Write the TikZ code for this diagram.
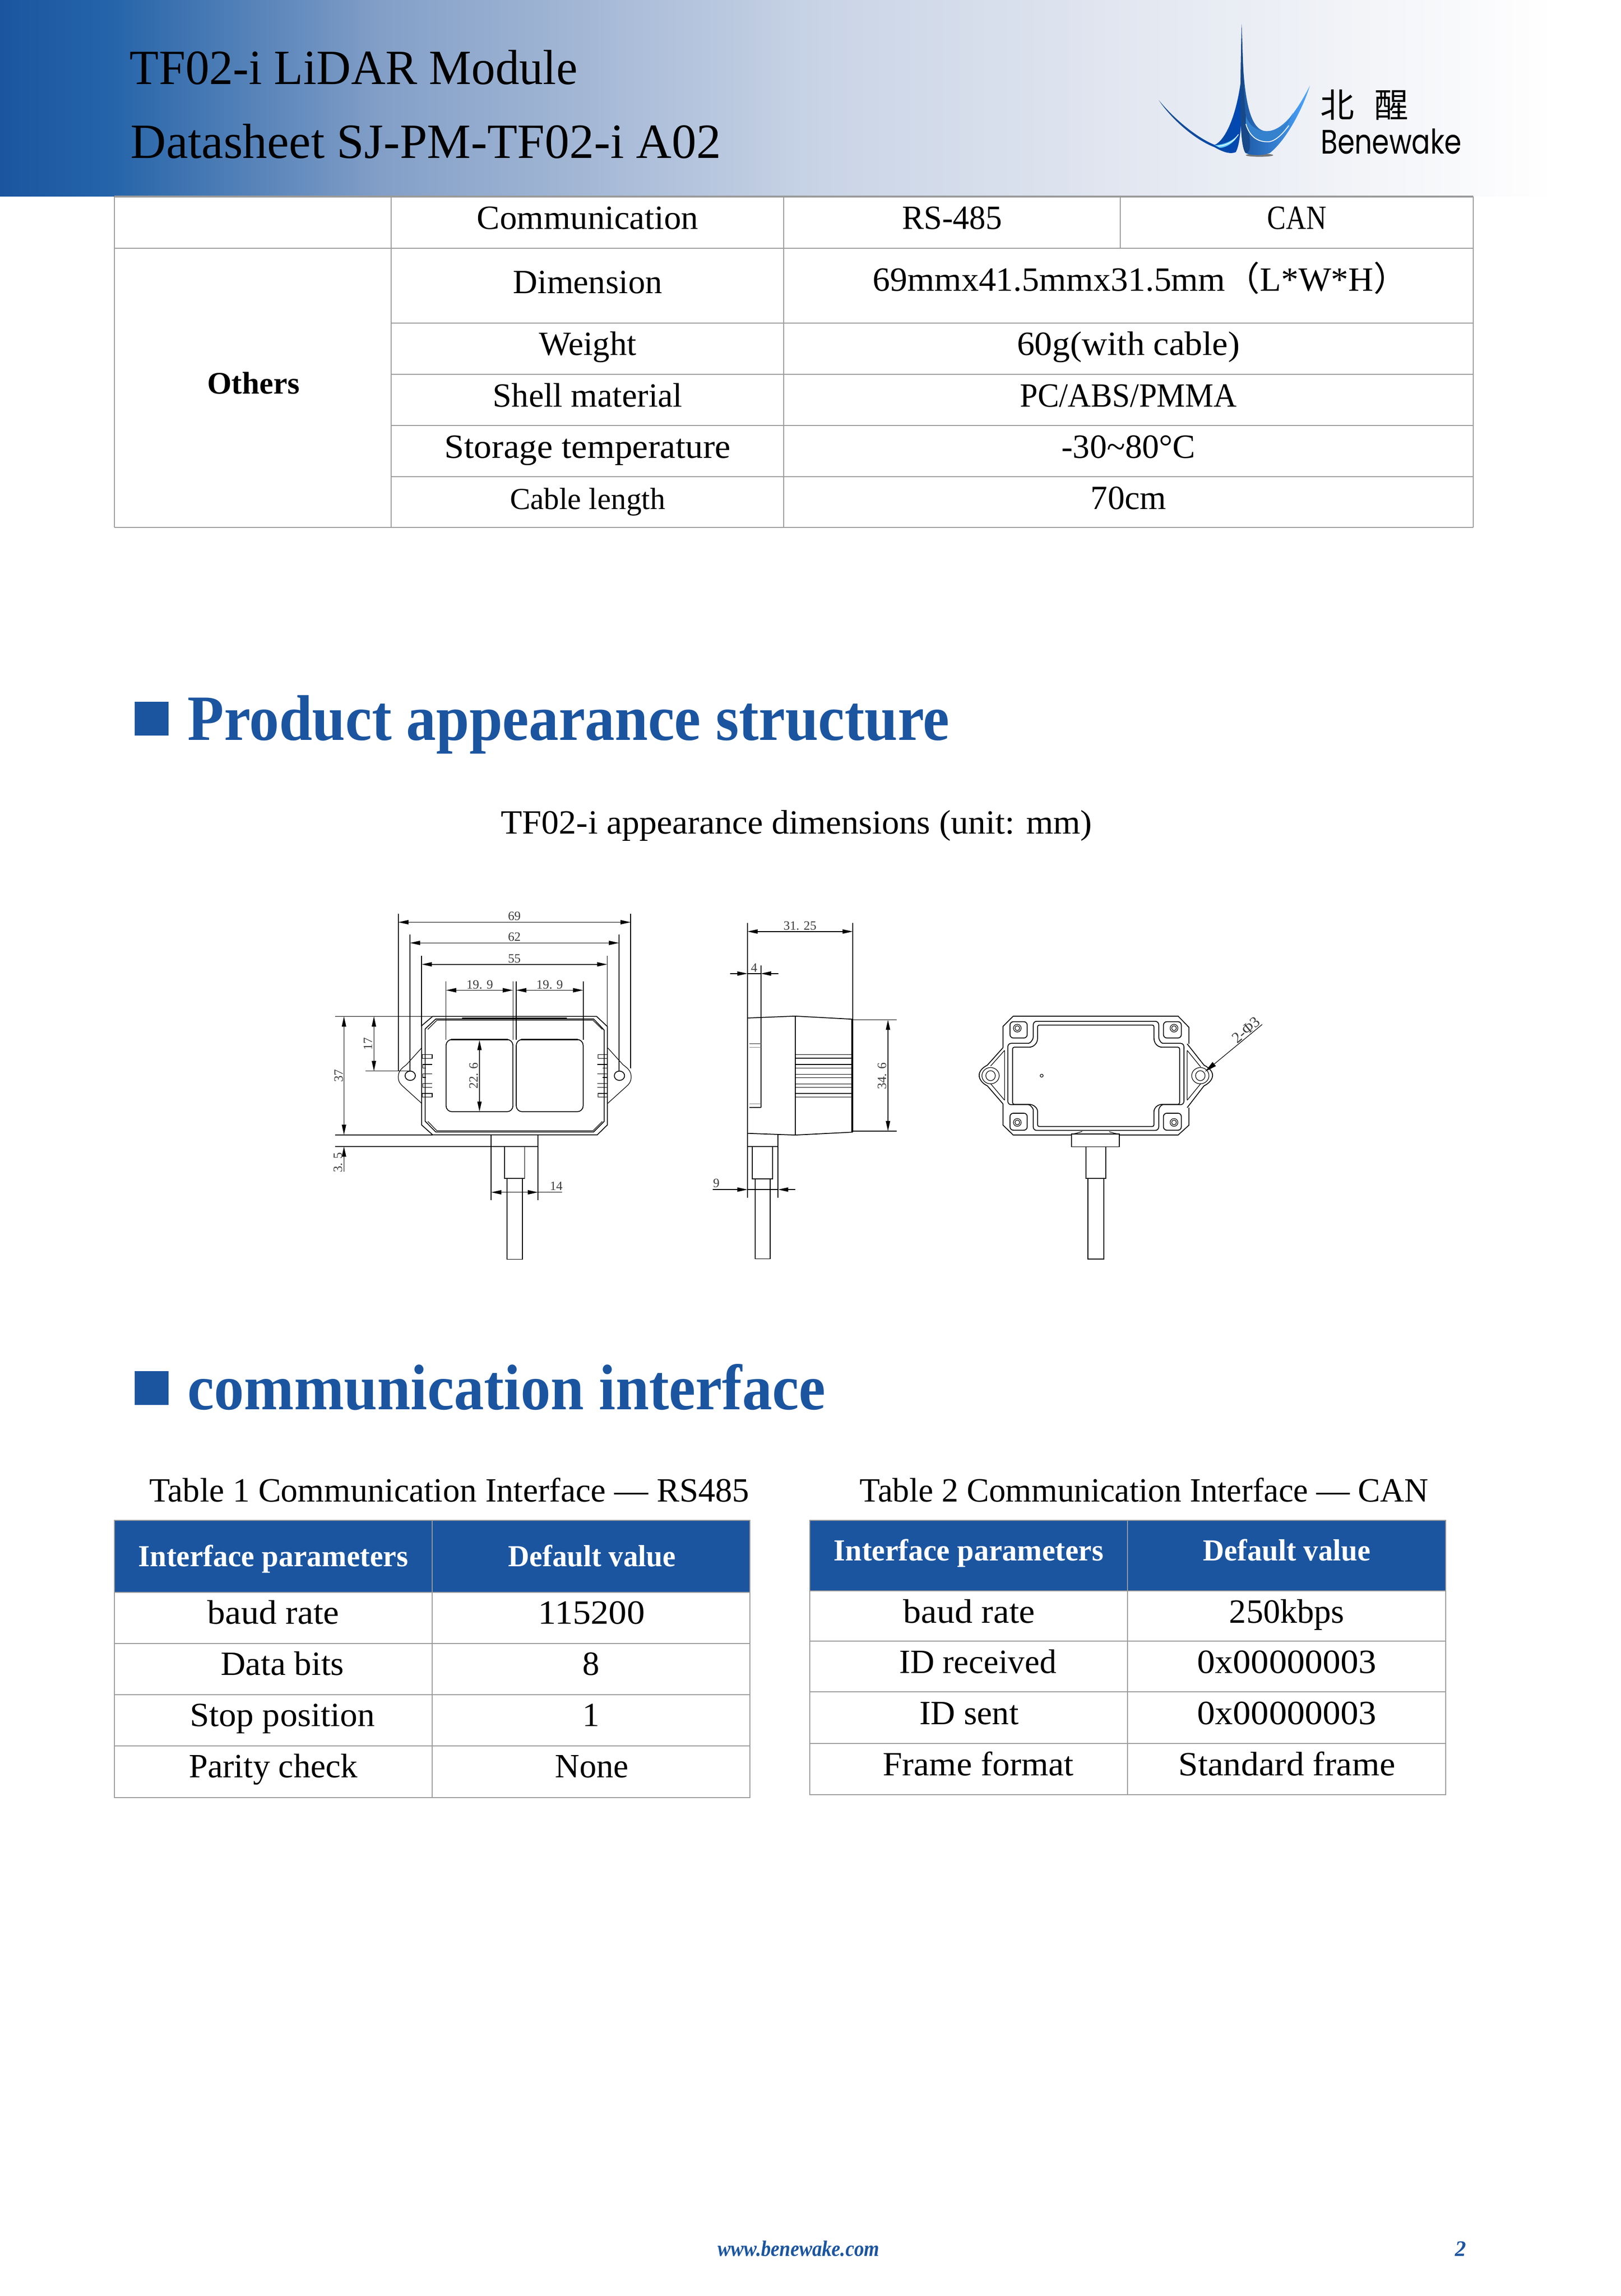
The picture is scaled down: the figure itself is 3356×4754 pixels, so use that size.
\documentclass[tikz,border=0pt]{standalone}
\usepackage{fontspec}
\usepackage{graphicx}
\usetikzlibrary{arrows.meta}
\setmainfont{Liberation Serif}
\newfontfamily\cjkf{Noto Sans CJK SC}
\newfontfamily\logof{Poppins}
\definecolor{bw}{HTML}{1B55A0}
\definecolor{tline}{HTML}{9A9A9A}
\definecolor{dimtxt}{HTML}{3C3C3C}
\pgfdeclarehorizontalshading{hdrgrad}{100bp}{
 rgb(0bp)=(0.106,0.333,0.627);
 rgb(25bp)=(0.106,0.333,0.627);
 rgb(28.43bp)=(0.145,0.392,0.663);
 rgb(36.92bp)=(0.518,0.627,0.784);
 rgb(50.33bp)=(0.788,0.831,0.902);
 rgb(59.27bp)=(0.882,0.902,0.941);
 rgb(69.7bp)=(0.973,0.976,0.984);
 rgb(73bp)=(1,1,1);
 rgb(100bp)=(1,1,1)}
\newsavebox\fitbox
\newcommand\fitx[2]{\sbox\fitbox{#2}\pgfmathsetmacro\fitr{#1*0.28453/\wd\fitbox}\scalebox{\fitr}[1]{\usebox\fitbox}}
\newcommand\fpt[1]{\fontsize{#1pt}{#1pt}\selectfont}
\tikzset{
 tl/.style={draw=tline,line width=0.8pt},
 txt/.style={inner sep=0pt,anchor=base,font=\fpt{20}},
 txl/.style={inner sep=0pt,anchor=base west},
 hdt/.style={inner sep=0pt,anchor=base,text=white},
 part/.style={line width=0.5pt,draw=black},
 thin part/.style={line width=0.35pt,draw=black},
 ext/.style={line width=0.45pt,draw=black},
 dimline/.style={line width=0.45pt,draw=black,{Triangle[length=6pt,width=2.5pt]}-{Triangle[length=6pt,width=2.5pt]}},
 dimto/.style={line width=0.45pt,draw=black,-{Triangle[length=6pt,width=2.5pt]}},
 dl/.style={inner sep=0pt,text=dimtxt,font=\fpt{7.5}},
}
\begin{document}
\begin{tikzpicture}[x=0.01cm,y=-0.01cm]
\useasboundingbox (0,0) rectangle (3356,4754);
\fill[white] (0,0) rectangle (3356,4754);
% header
\path[shading=hdrgrad] (0,0) rectangle (3356,406);
\node[txl] (title1) at (268,174) {\fitx{927}{\fpt{29}TF02-i LiDAR Module}};
\node[txl] (title2) at (270,327) {\fitx{1222}{\fpt{29}Datasheet SJ-PM-TF02-i A02}};
% logo
\begin{scope}[shift={(2300,0)},xscale=0.6734,yscale=0.3333]
 \fill[gray!70!black,opacity=.8] (458,964) ellipse [x radius=42,y radius=10];
 \shade[left color=bw!90!black,right color=blue!60!cyan!70!black]
  (148,622) .. controls (200,750) and (270,860) .. (320,900)
  .. controls (345,880) and (385,760) .. (402,480)
  .. controls (405,700) and (402,880) .. (385,945)
  .. controls (370,958) and (350,950) .. (320,915)
  .. controls (250,860) and (180,720) .. (148,622) -- cycle;
 \fill[blue!30!cyan!60!white] (320,902) .. controls (345,900) and (375,880) .. (392,835)
  .. controls (385,880) and (355,920) .. (335,918) -- cycle;
 \shade[left color=bw,right color=cyan!50!blue!70!white]
  (403,150) .. controls (406,550) and (420,815) .. (480,815)
  .. controls (540,815) and (590,620) .. (613,532)
  .. controls (590,680) and (540,870) .. (490,950)
  .. controls (470,968) and (430,968) .. (415,950)
  .. controls (395,900) and (398,600) .. (403,150) -- cycle;
 \fill[bw!85!black] (403,150) .. controls (398,600) and (395,900) .. (415,950)
  .. controls (440,960) and (425,800) .. (414,700) .. controls (408,500) and (406,300) .. (403,150) -- cycle;
 \fill[cyan!55!blue!85!white] (416,780) .. controls (440,880) and (470,885) .. (490,880)
  .. controls (510,870) and (535,830) .. (560,700)
  .. controls (540,790) and (510,815) .. (480,815) .. controls (450,815) and (425,780) .. (416,720) -- cycle;
 \draw[white,line width=0.5pt] (416,770) .. controls (430,870) and (465,885) .. (490,880) .. controls (510,870) and (530,830) .. (548,780);
 \draw[white,line width=0.4pt] (330,908) .. controls (355,905) and (380,880) .. (393,835);
 \node[inner sep=0pt,anchor=base] (bei) at (698,732) {\cjkf\fpt{20}北};
 \node[inner sep=0pt,anchor=base] (xing) at (864,732) {\cjkf\fpt{20}醒};
 \node[txl] (benewake) at (645,955) {\fitx{292}{\logof\fpt{20}Benewake}};
\end{scope}
% top table
\draw[tl,line width=1.2pt] (237,407) -- (3051,407);
\draw[tl] (237,407) -- (237,1092) (810,407) -- (810,1092) (1623,407) -- (1623,1092) (2320,407) -- (2320,513) (3051,407) -- (3051,1092);
\draw[tl] (237,514) -- (3051,514) (810,669) -- (3051,669) (810,775) -- (3051,775) (810,881) -- (3051,881) (810,987) -- (3051,987) (237,1092) -- (3051,1092);
\node[txt] (c1) at (1217,474) {\fitx{458}{Communication}};
\node[txt] (c2) at (1972,474) {\fitx{207}{RS-485}};
\node[txt] (c3) at (2686,474) {\fitx{122}{CAN}};
\node[txt] (c4) at (1217,607) {Dimension};
\node[txt] (c5) at (2362,602) {\fitx{1108}{69mmx41.5mmx31.5mm{\cjkf（}L*W*H{\cjkf ）}}};
\node[txt] (c6) at (1217,735) {Weight};
\node[txt] (c7) at (2337,735) {\fitx{461}{60g(with cable)}};
\node[txt] (c8) at (1217,842) {Shell material};
\node[txt] (c9) at (2337,842) {\fitx{449}{PC/ABS/PMMA}};
\node[txt] (c10) at (1217,948) {\fitx{592}{Storage temperature}};
\node[txt] (c11) at (2337,948) {-30\char"007E 80°C};
\node[txt,font=\fpt{18}] (c12) at (1217,1054) {Cable length};
\node[txt] (c13) at (2337,1054) {70cm};
\node[txt,font=\bfseries\fpt{18.5}] (others) at (525,815) {Others};
% section 1
\fill[bw] (279,1453) rectangle (349,1523);
\node[txl,text=bw] (sec1) at (388,1532) {\fitx{1577}{\bfseries\fpt{38}Product appearance structure}};
\node[txl] (cap) at (1037,1726) {\fitx{1223}{\fpt{20}TF02-i appearance dimensions (unit: mm)}};
% front view
\begin{scope}[shift={(660,1860)},xscale=0.4847,yscale=0.5102]
 \draw[ext] (340,62) -- (340,700) (1333,62) -- (1333,690)
  (390,146) -- (390,700) (1283,146) -- (1283,700)
  (440,233) -- (440,520) (1233,233) -- (1233,520)
  (544,338) -- (544,575) (830,338) -- (830,575) (844,338) -- (844,575) (1130,338) -- (1130,575)
  (70,479) -- (487,479) (200,701) -- (390,701) (70,960) -- (487,960) (70,1007) -- (937,1007)
  (737,960) -- (737,1225) (937,960) -- (937,1225) (937,1193) -- (1040,1193);
 \draw[dimline] (340,97) -- (1333,97);
 \draw[dimline] (390,181) -- (1283,181);
 \draw[dimline] (440,268) -- (1233,268);
 \draw[dimline] (544,373) -- (830,373);
 \draw[dimline] (844,373) -- (1130,373);
 \draw[dimline] (108,479) -- (108,960);
 \draw[dimline] (236,479) -- (236,701);
 \draw[dimline] (687,575) -- (687,866);
 \draw[dimline] (737,1193) -- (937,1193);
 \draw[dimto] (108,1110) -- (108,1007);
 \node[dl] (d69) at (836,72) {69};
 \node[dl] (d62) at (836,157) {62};
 \node[dl] (d55) at (836,245) {55};
 \node[dl] (d199a) at (688,350) {19. 9};
 \node[dl] (d199b) at (987,350) {19. 9};
 \node[dl,rotate=90] (d37) at (85,720) {37};
 \node[dl,rotate=90] (d17) at (210,590) {17};
 \node[dl,rotate=90] (d35) at (82,1072) {3. 5};
 \node[dl,rotate=90] (d226) at (662,720) {22. 6};
 \node[dl] (d14) at (1015,1168) {14};
 \draw[part] (487,479) -- (1187,479) -- (1233,520) -- (1233,920) -- (1190,960) -- (487,960) -- (440,920) -- (440,517) -- cycle;
 \draw[part] (500,490) -- (1175,490) -- (1220,535) -- (1220,905) -- (1175,948) -- (500,948) -- (455,905) -- (455,530) -- cycle;
 \draw[thin part] (505,495) -- (1172,495) (466,532) -- (505,495) (1172,495) -- (1212,532) (466,905) -- (505,943) -- (1172,943) -- (1212,905);
 \draw[line width=1pt] (612,487) -- (1060,487);
 \draw[part,rounded corners=3.5pt] (544,573) rectangle (830,866);
 \draw[part,rounded corners=3.5pt] (844,573) rectangle (1130,866);
 \draw[line width=.8pt] (565,573) -- (808,573) (865,573) -- (1108,573);
 \draw[thin part] (440,607) -- (375,675) .. controls (355,690) and (340,700) .. (340,725) .. controls (340,745) and (350,755) .. (362,765) -- (440,832);
 \draw[thin part] (1235,607) -- (1300,675) .. controls (1320,690) and (1335,700) .. (1335,725) .. controls (1335,745) and (1325,755) .. (1313,765) -- (1235,832);
 \draw[part] (391,720) ellipse [x radius=22,y radius=19];
 \draw[part] (1285,720) ellipse [x radius=22,y radius=19];
 \foreach \y in {634,792} {\draw[thin part] (442,\y) rectangle (485,\y+15); \draw[thin part] (1193,\y) rectangle (1232,\y+15);}
 \foreach \y in {674,712,752} {\draw[thin part] (444,\y) -- (485,\y) (444,\y+15) -- (458,\y+15) (444,\y) -- (444,\y+15) (1190,\y) -- (1232,\y) (1232,\y) -- (1232,\y+15) (1214,\y+15) -- (1232,\y+15);}
 \draw[thin part] (458,767) -- (485,767) (1190,767) -- (1214,767);
 \draw[part] (794,1007) rectangle (880,1137);
 \draw[part] (804,1137) rectangle (870,1465);
\end{scope}
% side view
\begin{scope}[shift={(1440,1880)},xscale=0.3333,yscale=0.4975]
 \draw[ext,line width=0.6pt] (324,63) -- (324,1205) (978,63) -- (978,465) (407,240) -- (407,830);
 \draw[dimto] (216,273) -- (324,273);
 \draw[dimto] (515,273) -- (407,273);
 \draw[ext] (324,273) -- (407,273);
 \draw[dimline] (324,98) -- (978,98);
 \node[dl] (s3125) at (650,75) {31. 25};
 \node[dl] (s4) at (365,248) {4};
 \draw[part] (324,458) -- (620,450) -- (978,463);
 \draw[part] (324,938) -- (620,945) -- (978,933);
 \draw[part] (620,450) -- (620,945);
 \draw[line width=1.1pt] (975,463) -- (975,933);
 \foreach \y in {610,651,692,732,772} {\draw[thin part] (620,\y) rectangle (970,\y+15);}
 \draw[gray,line width=.35pt] (336,565) -- (407,565) (336,580) -- (407,580) (336,815) -- (407,815);
 \draw[thin part] (336,830) -- (407,830);
 \draw[ext] (978,465) -- (1250,465) (978,929) -- (1250,929);
 \draw[dimline] (1197,465) -- (1197,929);
 \node[dl,rotate=90] (s346) at (1160,700) {34. 6};
 \draw[part] (514,945) -- (514,1205) (324,993) -- (514,993);
 \draw[part] (353,993) rectangle (480,1127);
 \draw[part] (372,1127) rectangle (466,1460);
 \draw[ext] (324,1172) -- (514,1172);
 \draw[dimto] (108,1172) -- (324,1172);
 \draw[dimto] (622,1172) -- (514,1172);
 \node[dl] (s9) at (130,1145) {9};
\end{scope}
% back view
\begin{scope}[shift={(1980,2060)},xscale=0.4464,yscale=0.3827]
 \draw[part] (265,115) -- (1030,115) -- (1080,175) -- (1080,265) (1080,610) -- (1080,705) -- (1030,758) -- (757,758) (536,758) -- (265,758) -- (218,705) -- (218,590) (218,285) -- (218,170) -- (265,115);
 \draw[part] (218,285) -- (145,380) .. controls (120,395) and (107,415) .. (107,435) .. controls (107,455) and (120,478) .. (145,492) -- (218,590);
 \draw[part] (1072,265) -- (1150,380) .. controls (1175,395) and (1190,415) .. (1190,435) .. controls (1190,455) and (1175,478) .. (1150,492) -- (1072,610);
 \draw[thin part] (225,300) -- (160,385) (160,480) -- (225,570) (225,300) -- (225,570);
 \draw[thin part] (1072,300) -- (1135,390) (1135,480) -- (1072,570) (1072,300) -- (1072,570);
 \foreach \cx in {160,1133} {
  \draw[thin part] (\cx,437) ellipse [x radius=40,y radius=44];
  \draw[thin part] (\cx,437) ellipse [x radius=22,y radius=27];
 }
 \draw[part,rounded corners=2pt] (358,210) -- (358,143) -- (940,143) -- (940,210) .. controls (940,240) and (950,262) .. (975,262) -- (1057,262) -- (1057,594) -- (975,594) .. controls (950,594) and (940,615) .. (940,640) -- (940,733) -- (358,733) -- (358,640) .. controls (358,615) and (345,594) .. (320,594) -- (240,594) -- (240,262) -- (320,262) .. controls (345,262) and (358,240) .. (358,210) -- cycle;
 \draw[part,rounded corners=1pt] (378,225) -- (378,163) -- (918,163) -- (918,225) .. controls (918,262) and (935,283) .. (965,283) -- (1037,283) -- (1037,592) -- (965,592) .. controls (935,592) and (918,612) .. (918,640) -- (918,712) -- (378,712) -- (378,640) .. controls (378,612) and (360,592) .. (330,592) -- (262,592) -- (262,283) -- (330,283) .. controls (360,283) and (378,262) .. (378,225) -- cycle;
 \foreach \ax/\ay/\bx/\by/\sx/\sy in {250/145/330/233/284/180, 962/145/1045/233/1011/180, 250/640/330/732/284/690, 962/640/1045/732/1011/690} {
  \draw[part,rounded corners=2pt] (\ax,\ay) rectangle (\bx,\by);
  \draw[thin part] (\sx,\sy) ellipse [x radius=18,y radius=21];
  \draw[thin part] (\sx,\sy) ellipse [x radius=11,y radius=13];
 }
 \draw[thin part] (397,437) ellipse [x radius=7,y radius=8];
 \draw[part] (536,752) rectangle (757,822);
 \draw[thin part] (536,752) .. controls (550,752) and (570,745) .. (585,738) (757,752) .. controls (740,752) and (725,745) .. (710,740);
 \draw[part] (602,822) rectangle (695,993);
 \draw[part] (612,993) rectangle (685,1430);
 \draw[ext,line width=.35pt,-{Triangle[length=7pt,width=3pt]}] (1420,160) -- (1155,415);
 \node[dl,rotate=40,font=\fpt{9}] (phi) at (1345,190) {2-Φ3};
\end{scope}
% section 2
\fill[bw] (279,2839) rectangle (349,2909);
\node[txl,text=bw] (sec2) at (388,2918) {\fitx{1320}{\bfseries\fpt{38}communication interface}};
\node[txl] (tc1) at (309,3109) {\fitx{1241}{\fpt{20}Table 1 Communication Interface — RS485}};
\node[txl] (tc2) at (1780,3109) {\fitx{1177}{\fpt{20}Table 2 Communication Interface — CAN}};
% table 1
\fill[bw] (237,3148) rectangle (1553,3297);
\draw[tl] (237,3148) rectangle (1553,3722);
\draw[tl] (895,3148) -- (895,3722) (237,3297) -- (1553,3297) (237,3403) -- (1553,3403) (237,3509) -- (1553,3509) (237,3615) -- (1553,3615);
\node[hdt] (t1h1) at (566,3243) {\fitx{558}{\bfseries\fpt{18}Interface parameters}};
\node[hdt] (t1h2) at (1226,3243) {\fitx{346}{\bfseries\fpt{18}Default value}};
\node[txt] (t1a) at (566,3362) {\fitx{273}{baud rate}};
\node[txt] (t1b) at (1225,3362) {\fitx{221}{115200}};
\node[txt] (t1c) at (585,3468) {\fitx{255}{Data bits}};
\node[txt] (t1d) at (1224,3468) {8};
\node[txt] (t1e) at (585,3574) {\fitx{382}{Stop position}};
\node[txt] (t1f) at (1224,3574) {1};
\node[txt] (t1g) at (566,3680) {Parity check};
\node[txt] (t1h) at (1226,3680) {None};
% table 2
\fill[bw] (1677,3148) rectangle (2994,3294);
\draw[tl] (1677,3148) rectangle (2994,3716);
\draw[tl] (2335,3148) -- (2335,3716) (1677,3294) -- (2994,3294) (1677,3398) -- (2994,3398) (1677,3503) -- (2994,3503) (1677,3610) -- (2994,3610);
\node[hdt] (t2h1) at (2006,3231) {\fitx{558}{\bfseries\fpt{18}Interface parameters}};
\node[hdt] (t2h2) at (2665,3231) {\fitx{346}{\bfseries\fpt{18}Default value}};
\node[txt] (t2a) at (2007,3360) {\fitx{273}{baud rate}};
\node[txt] (t2b) at (2665,3360) {250kbps};
\node[txt] (t2c) at (2025,3464) {\fitx{325}{ID received}};
\node[txt] (t2d) at (2665,3464) {\fitx{370}{0x00000003}};
\node[txt] (t2e) at (2007,3570) {ID sent};
\node[txt] (t2f) at (2665,3570) {\fitx{370}{0x00000003}};
\node[txt] (t2g) at (2026,3676) {\fitx{394}{Frame format}};
\node[txt] (t2h) at (2665,3676) {\fitx{449}{Standard frame}};
% footer
\node[txl,text=bw] (web) at (1486,4671) {\fitx{334}{\bfseries\itshape\fpt{13}www.benewake.com}};
\node[txl,text=bw] (pg) at (3013,4671) {\bfseries\itshape\fpt{13}2};
\end{tikzpicture}
\end{document}
